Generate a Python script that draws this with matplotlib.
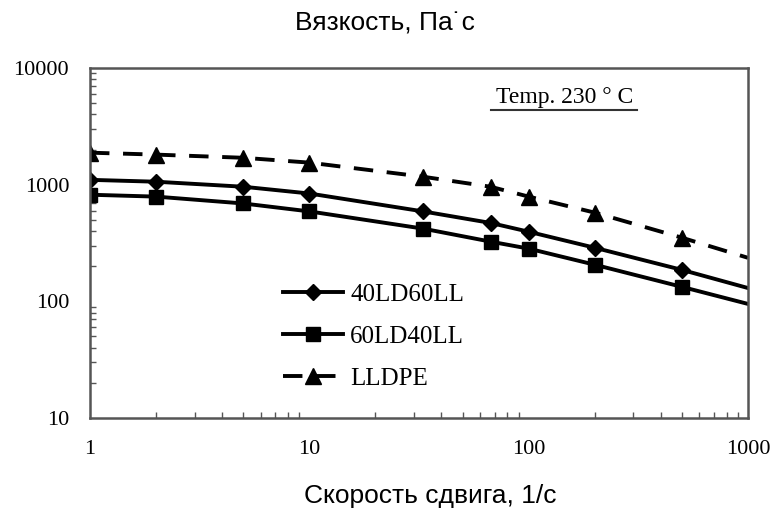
import matplotlib
matplotlib.use("Agg")
import matplotlib.pyplot as plt
import numpy as np
from matplotlib.ticker import FixedLocator, LogLocator, NullFormatter
from matplotlib.lines import Line2D

# Data (shear rate, 1/s; viscosity, Pa*s)
shear = [1, 2, 5, 10, 33, 67, 100, 200, 500, 1000]
visc_40LD60LL = [1100, 1060, 960, 840, 590, 470, 395, 288, 186, 130]
visc_60LD40LL = [820, 790, 690, 590, 420, 325, 283, 206, 133, 95]
visc_LLDPE = [1880, 1810, 1700, 1545, 1170, 960, 790, 576, 351, 236]
labels = ["40LD60LL", "60LD40LL", "LLDPE"]
x_ticks = [1, 10, 100, 1000]
y_ticks = [10, 100, 1000, 10000]

fig = plt.figure(figsize=(7.75, 5.13), dpi=100)
ax = fig.add_axes([90/775, 1-418/513, 658/775, 350/513])
ax.set_xscale("log")
ax.set_yscale("log")
ax.set_xlim(1, 1000)
ax.set_ylim(10, 10000)

mk = list(range(len(shear) - 1))
lw = 2.8
ax.plot(shear, visc_40LD60LL, color="black", lw=lw, marker="D", ms=8, markevery=mk, label=labels[0])
ax.plot(shear, visc_60LD40LL, color="black", lw=lw, marker="s", ms=10, markevery=mk, label=labels[1])
ax.plot(shear, visc_LLDPE, color="black", lw=lw, ls=(0, (5, 3.5)), marker="^", ms=12, markevery=mk, label=labels[2])

serif = ["Liberation Serif", "DejaVu Serif"]
ax.xaxis.set_major_locator(FixedLocator(x_ticks))
ax.yaxis.set_major_locator(FixedLocator(y_ticks))
ax.set_xticklabels([str(v) for v in x_ticks], fontfamily=serif, fontsize=16)
ax.set_yticklabels([str(v) for v in y_ticks], fontfamily=serif, fontsize=16)
ax.xaxis.set_minor_locator(LogLocator(base=10, subs=np.arange(2, 10)))
ax.yaxis.set_minor_locator(LogLocator(base=10, subs=np.arange(2, 10)))
ax.xaxis.set_minor_formatter(NullFormatter())
ax.yaxis.set_minor_formatter(NullFormatter())
ax.tick_params(which="both", direction="in", color="#555555")
ax.tick_params(which="major", length=0)
ax.tick_params(axis="x", which="major", pad=16)
ax.tick_params(axis="y", which="major", pad=15)
ax.tick_params(which="minor", length=4, width=1)
ax.tick_params(axis="x", which="minor", top=False)
ax.tick_params(axis="y", which="minor", right=False)
for s in ax.spines.values():
    s.set_color("#555555")
    s.set_linewidth(1.8)

leg = ax.legend(loc="center left", bbox_to_anchor=(0.274, 0.232), frameon=False,
                prop={"family": serif, "size": 18}, handlelength=2.4,
                labelspacing=0.78, handletextpad=0.3, borderpad=0)

ax.text(0.722, 0.915, "Temp. 230 ° C", transform=ax.transAxes, ha="center", va="center",
        fontfamily=serif, fontsize=17)
ax.add_line(Line2D([0.61, 0.832], [0.88, 0.88], transform=ax.transAxes, color="#333333", lw=1.5))

fig.text(385/775, 1-24/513, "Вязкость, Па˙с", ha="center", va="center",
         fontfamily=["Liberation Sans", "DejaVu Sans"], fontsize=19)
fig.text(430/775, 1-496/513, "Скорость сдвига, 1/с", ha="center", va="center",
         fontfamily=["Liberation Sans", "DejaVu Sans"], fontsize=19)

fig.savefig("out.png", dpi=100)
